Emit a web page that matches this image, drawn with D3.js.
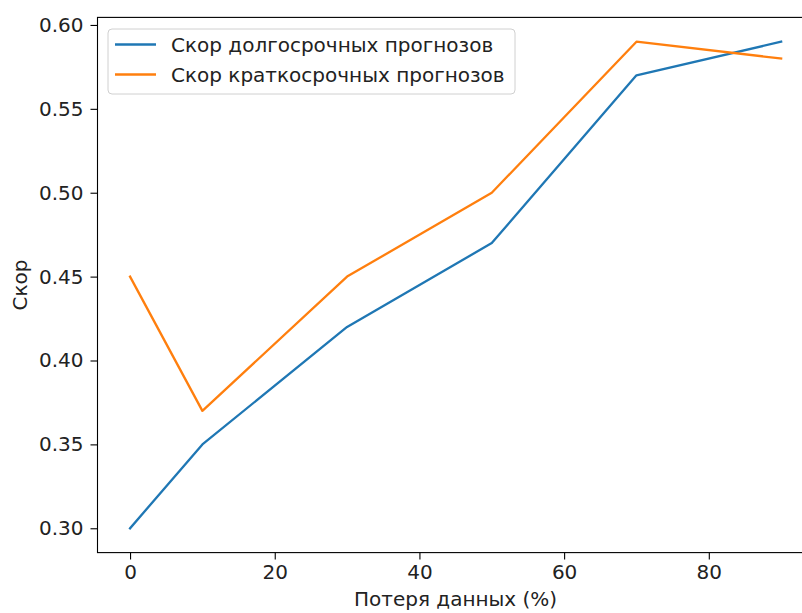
<!DOCTYPE html>
<html>
<head>
<meta charset="utf-8">
<script src="https://cdn.jsdelivr.net/npm/d3@7"></script>
<style>
  html, body { margin: 0; padding: 0; background: #fff; }
  svg { display: block; font-family: "DejaVu Sans", sans-serif; }
</style>
</head>
<body>
<svg id="chart" width="802" height="613"></svg>
<script>
// Data
const lossPercent = [0, 10, 30, 50, 70, 90];
const longTermScore = [0.30, 0.35, 0.42, 0.47, 0.57, 0.59];
const shortTermScore = [0.45, 0.37, 0.45, 0.50, 0.59, 0.58];
const seriesNames = ["Скор долгосрочных прогнозов", "Скор краткосрочных прогнозов"];
const seriesColors = ["#1f77b4", "#ff7f0e"];
const xTicks = [0, 20, 40, 60, 80];
const yTicks = [0.30, 0.35, 0.40, 0.45, 0.50, 0.55, 0.60];
const xLabel = "Потеря данных (%)";
const yLabel = "Скор";

const svg = d3.select("#chart");
const plot = { left: 97.5, right: 813.7, top: 17.4, bottom: 552.6 };
const fontSize = 20;

const x = d3.scaleLinear().domain([-4.5, 94.5]).range([plot.left, plot.right]);
const y = d3.scaleLinear().domain([0.2855, 0.6045]).range([plot.bottom, plot.top]);

// lines
const line = d3.line().x(d => x(d[0])).y(d => y(d[1]));
const series = [longTermScore, shortTermScore];
series.forEach((vals, i) => {
  svg.append("path")
    .datum(lossPercent.map((v, j) => [v, vals[j]]))
    .attr("d", line)
    .attr("fill", "none")
    .attr("stroke", seriesColors[i])
    .attr("stroke-width", 2.3)
    .attr("stroke-linejoin", "round")
    .attr("stroke-linecap", "square");
});

// axes
const xAxis = d3.axisBottom(x).tickValues(xTicks).tickFormat(d3.format("d")).tickSizeInner(7).tickSizeOuter(0).tickPadding(5);
const yAxis = d3.axisLeft(y).tickValues(yTicks).tickFormat(d3.format(".2f")).tickSizeInner(7).tickSizeOuter(0).tickPadding(7);

const gx = svg.append("g").attr("transform", `translate(0,${plot.bottom})`).call(xAxis);
const gy = svg.append("g").attr("transform", `translate(${plot.left},0)`).call(yAxis);
[gx, gy].forEach(g => {
  g.select(".domain").remove();
  g.selectAll(".tick line").attr("stroke", "#000").attr("stroke-width", 1.1);
  g.selectAll(".tick text").attr("fill", "#222").style("font-size", fontSize + "px").style("font-family", "DejaVu Sans");
});

// spines
svg.append("rect")
  .attr("x", plot.left).attr("y", plot.top)
  .attr("width", plot.right - plot.left).attr("height", plot.bottom - plot.top)
  .attr("fill", "none").attr("stroke", "#000").attr("stroke-width", 1.1);

// axis labels
svg.append("text")
  .attr("x", (plot.left + plot.right) / 2).attr("y", 605.5)
  .attr("text-anchor", "middle").attr("fill", "#222")
  .style("font-size", fontSize + "px")
  .text(xLabel);
svg.append("text")
  .attr("transform", `translate(27,${(plot.top + plot.bottom) / 2}) rotate(-90)`)
  .attr("text-anchor", "middle").attr("fill", "#222")
  .style("font-size", fontSize + "px")
  .text(yLabel);

// legend
const lg = svg.append("g");
lg.append("rect")
  .attr("x", 108).attr("y", 29).attr("width", 407).attr("height", 65)
  .attr("rx", 4).attr("ry", 4)
  .attr("fill", "#fff").attr("fill-opacity", 0.8)
  .attr("stroke", "#d0d0d0").attr("stroke-width", 1);
seriesNames.forEach((name, i) => {
  const yy = 44.5 + i * 30;
  lg.append("line")
    .attr("x1", 115).attr("x2", 156).attr("y1", yy).attr("y2", yy)
    .attr("stroke", seriesColors[i]).attr("stroke-width", 2.3);
  lg.append("text")
    .attr("x", 171).attr("y", yy).attr("dy", "0.35em")
    .attr("fill", "#222")
    .style("font-size", fontSize + "px")
    .text(name);
});
</script>
</body>
</html>
